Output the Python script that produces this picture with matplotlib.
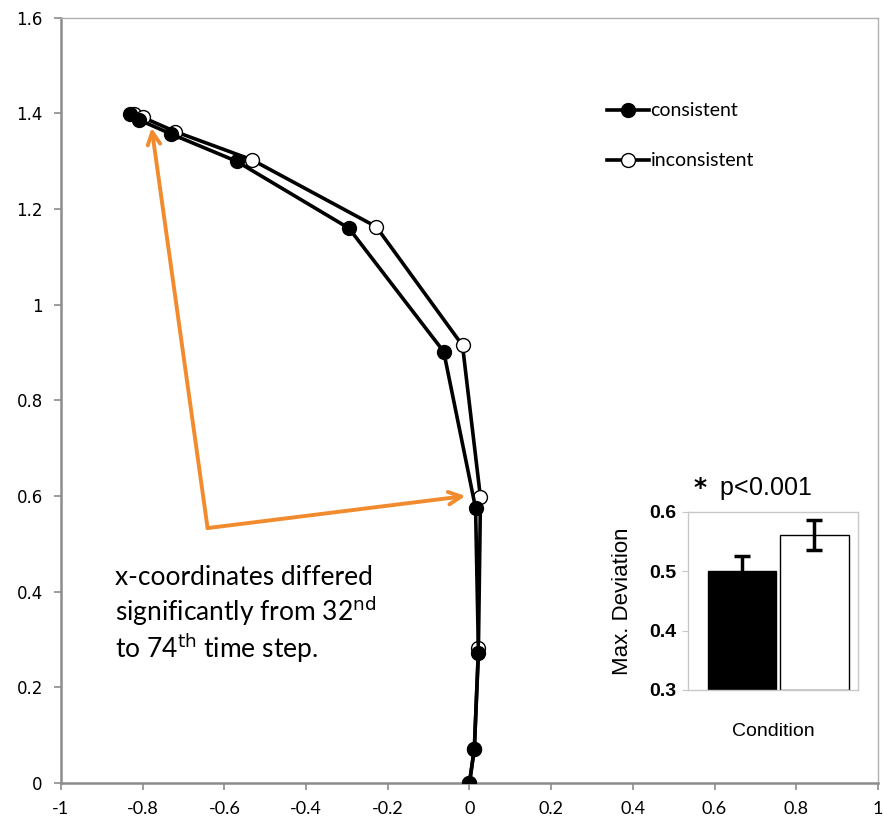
import matplotlib.pyplot as plt

# trajectory data (mean x / y per time step)
cons_x = [-0.832, -0.81, -0.73, -0.57, -0.295, -0.063, 0.015, 0.022, 0.012, 0.0]
cons_y = [1.398, 1.387, 1.357, 1.300, 1.160, 0.902, 0.575, 0.272, 0.072, 0.0]
incons_x = [-0.822, -0.80, -0.72, -0.532, -0.228, -0.017, 0.027, 0.022, 0.012, 0.0]
incons_y = [1.398, 1.392, 1.362, 1.303, 1.163, 0.915, 0.597, 0.282, 0.072, 0.0]

x_ticks = [-1, -0.8, -0.6, -0.4, -0.2, 0, 0.2, 0.4, 0.6, 0.8, 1]
x_labels = ['-1', '-0.8', '-0.6', '-0.4', '-0.2', '0', '0.2', '0.4', '0.6', '0.8', '1']
y_ticks = [0, 0.2, 0.4, 0.6, 0.8, 1.0, 1.2, 1.4, 1.6]
y_labels = ['0', '0.2', '0.4', '0.6', '0.8', '1', '1.2', '1.4', '1.6']

# inset bar chart
conditions = ['consistent', 'inconsistent']
max_dev = [0.501, 0.561]
max_dev_err = [0.024, 0.025]

orange = '#F28A2E'
gray = '#8c8c8c'

fig = plt.figure(figsize=(8.83, 8.21), dpi=100)
ax = fig.add_axes([0.069, 0.0463, 0.9253, 0.932])

ax.plot(cons_x, cons_y, color='black', lw=2.6, marker='o', ms=10,
        mfc='black', mec='black', zorder=3)
ax.plot(incons_x, incons_y, color='black', lw=2.6, marker='o', ms=10,
        mfc='white', mec='black', mew=1.0, zorder=2)

ax.set_xlim(-1, 1)
ax.set_ylim(0, 1.6)
ax.set_xticks(x_ticks)
ax.set_xticklabels(x_labels, fontsize=13, family='Lato')
ax.set_yticks(y_ticks)
ax.set_yticklabels(y_labels, fontsize=12, family='DejaVu Sans')
ax.tick_params(axis='both', color=gray, length=5, width=1.2, pad=8)
for side in ['left', 'bottom']:
    ax.spines[side].set_color(gray)
    ax.spines[side].set_linewidth(1.8)
for side in ['top', 'right']:
    ax.spines[side].set_color('#b0b0b0')
    ax.spines[side].set_linewidth(1.0)

# legend drawn by hand
for yy, fc, lab in [(1.407, 'black', 'consistent'), (1.302, 'white', 'inconsistent')]:
    ax.plot([0.337, 0.44], [yy, yy], color='black', lw=2.6)
    ax.plot([0.387], [yy], marker='o', ms=10, mfc=fc, mec='black', mew=1.0)
    ax.text(0.443, yy, lab, fontsize=14, va='center', ha='left', family='Lato')

# annotation arrows
start = (-0.641, 0.533)
for tip in [(-0.778, 1.37), (-0.01, 0.60)]:
    ax.annotate('', xy=tip, xytext=start,
                arrowprops=dict(arrowstyle='->,head_length=0.9,head_width=0.45',
                                color=orange, lw=2.8, shrinkA=0, shrinkB=0))

ax.text(-0.868, 0.455, 'x-coordinates differed\nsignificantly from 32$^{\\mathrm{nd}}$\nto 74$^{\\mathrm{th}}$ time step.',
        fontsize=19, ha='left', va='top', linespacing=1.15, family='Lato')

# inset
ins = fig.add_axes([0.779, 0.1596, 0.1925, 0.2168])
ins.bar([0, 1], [v - 0.3 for v in max_dev], bottom=0.3, width=0.95,
        color=['black', 'white'], edgecolor='black', lw=1.0)
ins.errorbar([0, 1], max_dev, yerr=max_dev_err, fmt='none', ecolor='black',
             elinewidth=2.5, capsize=6, capthick=2.5)
ins.set_xlim(-0.75, 1.6)
ins.set_ylim(0.3, 0.6)
ins.set_yticks([0.3, 0.4, 0.5, 0.6])
ins.set_yticklabels(['0.3', '0.4', '0.5', '0.6'], fontsize=14, fontweight='bold',
                    family='Liberation Sans')
ins.set_xticks([])
ins.tick_params(axis='y', color='#c8c8c8', length=4, pad=4)
for s in ins.spines.values():
    s.set_color('#c8c8c8')
    s.set_linewidth(1.0)
ins.set_ylabel('Max. Deviation', fontsize=16, family='Liberation Sans', labelpad=12)
ins.set_xlabel('Condition', fontsize=14, family='Liberation Sans', labelpad=24)
ins.set_title(r'$\mathbf{*}$  p<0.001', fontsize=18, family='Liberation Sans', pad=12, x=0.38)

fig.savefig('out.png', dpi=100)
